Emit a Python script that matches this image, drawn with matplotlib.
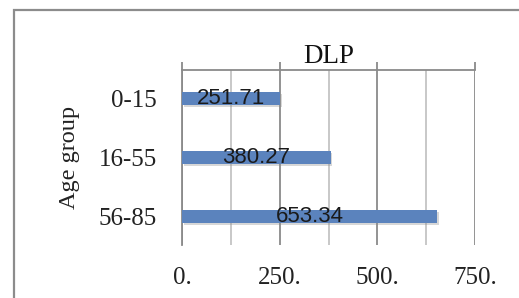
import matplotlib
matplotlib.use("Agg")
import matplotlib.pyplot as plt
import matplotlib.patheffects as pe
from matplotlib.patches import Rectangle

categories = ["0-15", "16-55", "56-85"]
values = [251.71, 380.27, 653.34]
value_labels = ["251.71", "380.27", "653.34"]
major_ticks = [0, 250, 500, 750]
major_labels = ["0.", "250.", "500.", "750."]
minor_ticks = [125, 375, 625]
title = "DLP"
ylabel = "Age group"

W, H = 519, 298
fig = plt.figure(figsize=(W / 100, H / 100), dpi=100)

# outer chart border
fig.patches.append(Rectangle((13.5 / W, -0.1), 1.2, 1 - 9.5 / H + 0.1,
                             transform=fig.transFigure, fill=False,
                             edgecolor="#8c8c8c", linewidth=1.6))

ax = fig.add_axes([182 / W, 1 - 245 / H, (475 - 182) / W, (245 - 70) / H])

ypos = list(range(len(categories)))
bars = ax.barh(ypos, values, height=0.22, color="#5b83bd", zorder=3)
for b in bars:
    b.set_path_effects([pe.SimplePatchShadow(offset=(1.3, -1.3), shadow_rgbFace="#8f8f8f", alpha=0.35),
                        pe.Normal()])

ax.bar_label(bars, labels=value_labels, label_type="center", fontsize=16,
             family="Liberation Sans", color="#1a1a1a", zorder=4)

ax.set_xlim(0, 750)
ax.set_ylim(2.48, -0.49)
ax.set_yticks(ypos)
ax.set_yticklabels(categories, family="Liberation Serif", fontsize=18)
ax.set_xticks(major_ticks)
ax.set_xticklabels(major_labels, family="Liberation Serif", fontsize=18, color="#222222")
ax.set_xticks(minor_ticks, minor=True)

ax.grid(True, axis="x", which="major", color="#8a8a8a", linewidth=1.3, zorder=1)
ax.grid(True, axis="x", which="minor", color="#c4c4c4", linewidth=1.3, zorder=1)
ax.set_axisbelow(True)

ax.tick_params(axis="x", which="major", top=True, bottom=False, labeltop=False, labelbottom=True,
               direction="out", length=5.8, width=1.3, color="#8a8a8a", pad=10)
ax.tick_params(axis="x", which="minor", top=False, bottom=False)
ax.tick_params(axis="y", length=0, pad=18, labelcolor="#222222")

for s in ["bottom", "right"]:
    ax.spines[s].set_visible(False)
ax.spines["top"].set_color("#8a8a8a")
ax.spines["top"].set_linewidth(1.3)
ax.spines["left"].set_color("#8a8a8a")
ax.spines["left"].set_linewidth(1.3)

ax.set_title(title, family="Liberation Serif", fontsize=19.5, y=1.0, pad=5, color="#111111")
ax.set_ylabel(ylabel, family="Liberation Serif", fontsize=17.5, color="#222222")
ax.yaxis.set_label_coords(-0.348, 0.5)

fig.savefig("out.png", dpi=100)
